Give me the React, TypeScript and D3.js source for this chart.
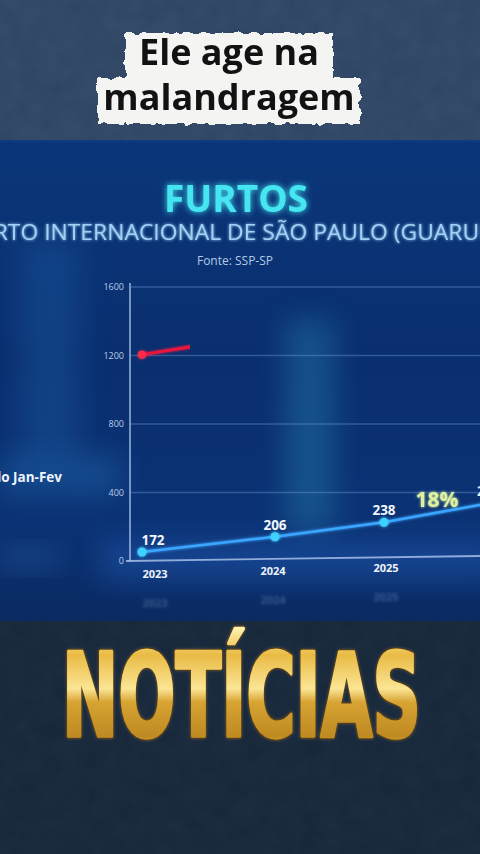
import React, { useEffect, useRef } from 'react';
import * as d3 from 'd3';

const years = [2023, 2024, 2025, 2026];
const furtos = [172, 206, 238, 281];
const yTicks = [0, 400, 800, 1200, 1600];
const janFev = [1205, 1330];
const janFevProgress = 0.36; // frame of the animation: red line only partly drawn
const growthLabel = '18%';
const captionLines = ['Ele age na', 'malandragem'];
const title = 'FURTOS';
const subtitle = 'AEROPORTO INTERNACIONAL DE SÃO PAULO (GUARULHOS)';
const source = 'Fonte: SSP-SP';
const legendLabel = 'Período Jan-Fev';
const brand = 'NOTÍCIAS';

const W = 480;
const H = 854;

const App: React.FC = () => {
  const ref = useRef<SVGSVGElement>(null);

  useEffect(() => {
    if (!ref.current) return;
    const svg = d3.select(ref.current);
    svg.selectAll('*').remove();

    const defs = svg.append('defs');

    const panelGrad = defs.append('linearGradient').attr('id', 'panel').attr('x1', 0).attr('y1', 0).attr('x2', 0).attr('y2', 1);
    panelGrad.append('stop').attr('offset', '0%').attr('stop-color', '#0a3679');
    panelGrad.append('stop').attr('offset', '45%').attr('stop-color', '#0a2f6f');
    panelGrad.append('stop').attr('offset', '80%').attr('stop-color', '#0b3274');
    panelGrad.append('stop').attr('offset', '100%').attr('stop-color', '#0a2a62');

    const gold = defs.append('linearGradient').attr('id', 'gold').attr('x1', 0).attr('y1', 0).attr('x2', 0).attr('y2', 1);
    [
      ['0%', '#fff2ae'],
      ['20%', '#e9bb45'],
      ['45%', '#fbe594'],
      ['55%', '#d7a332'],
      ['80%', '#bf8a22'],
      ['100%', '#f2cd66'],
    ].forEach(([o, c]) => gold.append('stop').attr('offset', o).attr('stop-color', c));

    const glow = defs.append('filter').attr('id', 'glow').attr('x', '-20%').attr('y', '-50%').attr('width', '140%').attr('height', '200%');
    glow.append('feGaussianBlur').attr('stdDeviation', 3).attr('result', 'b');
    const gm = glow.append('feMerge');
    gm.append('feMergeNode').attr('in', 'b');
    gm.append('feMergeNode').attr('in', 'SourceGraphic');

    const softGlow = defs.append('filter').attr('id', 'softGlow').attr('x', '-20%').attr('y', '-50%').attr('width', '140%').attr('height', '200%');
    softGlow.append('feGaussianBlur').attr('stdDeviation', 1.5).attr('result', 'b');
    const sm = softGlow.append('feMerge');
    sm.append('feMergeNode').attr('in', 'b');
    sm.append('feMergeNode').attr('in', 'SourceGraphic');

    defs.append('filter').attr('id', 'blurBig').attr('x', '-50%').attr('y', '-50%').attr('width', '200%').attr('height', '200%')
      .append('feGaussianBlur').attr('stdDeviation', 14);
    defs.append('filter').attr('id', 'blurSmall').attr('x', '-50%').attr('y', '-50%').attr('width', '200%').attr('height', '200%')
      .append('feGaussianBlur').attr('stdDeviation', 1.8);

    const torn = defs.append('filter').attr('id', 'torn').attr('x', '-5%').attr('y', '-10%').attr('width', '110%').attr('height', '120%');
    torn.append('feTurbulence').attr('type', 'fractalNoise').attr('baseFrequency', 0.12).attr('numOctaves', 2).attr('seed', 3).attr('result', 'n');
    torn.append('feDisplacementMap').attr('in', 'SourceGraphic').attr('in2', 'n').attr('scale', 7);

    const noise = defs.append('filter').attr('id', 'noise');
    noise.append('feTurbulence').attr('type', 'fractalNoise').attr('baseFrequency', 0.05).attr('numOctaves', 3).attr('seed', 7);
    noise.append('feColorMatrix').attr('values', '0 0 0 0 0.5  0 0 0 0 0.6  0 0 0 0 0.75  0 0 0 0.3 0');

    const clip = defs.append('clipPath').attr('id', 'plotClip');
    clip.append('rect').attr('x', 0).attr('y', 141).attr('width', W).attr('height', 480);

    // ---- backgrounds
    svg.append('rect').attr('width', W).attr('height', 141).attr('fill', '#2d4462');
    svg.append('rect').attr('width', W).attr('height', 141).attr('filter', 'url(#noise)').attr('opacity', 0.25);
    svg.append('rect').attr('y', 621).attr('width', W).attr('height', H - 621).attr('fill', '#17273a');
    svg.append('rect').attr('y', 621).attr('width', W).attr('height', H - 621).attr('filter', 'url(#noise)').attr('opacity', 0.15);

    const panel = svg.append('g').attr('clip-path', 'url(#plotClip)');
    panel.append('rect').attr('y', 141).attr('width', W).attr('height', 480).attr('fill', 'url(#panel)');
    // light beams and haze
    panel.append('rect').attr('x', 285).attr('y', 320).attr('width', 50).attr('height', 210).attr('fill', '#2a8fb8').attr('opacity', 0.35).attr('filter', 'url(#blurBig)');
    panel.append('rect').attr('x', 20).attr('y', 240).attr('width', 60).attr('height', 220).attr('fill', '#1f5fa8').attr('opacity', 0.35).attr('filter', 'url(#blurBig)');
    panel.append('rect').attr('x', 0).attr('y', 455).attr('width', 120).attr('height', 40).attr('fill', '#2a78c0').attr('opacity', 0.35).attr('filter', 'url(#blurBig)');
    panel.append('rect').attr('x', 100).attr('y', 540).attr('width', 400).attr('height', 40).attr('fill', '#2a6cd0').attr('opacity', 0.35).attr('filter', 'url(#blurBig)');
    panel.append('rect').attr('x', 0).attr('y', 548).attr('width', 60).attr('height', 20).attr('fill', '#3a7ac0').attr('opacity', 0.3).attr('filter', 'url(#blurBig)');

    // ---- caption
    const cap = svg.append('g');
    const capY = [65, 110];
    const capBox = [
      { x: 125, w: 208 },
      { x: 97, w: 263 },
    ];
    captionLines.forEach((t, i) => {
      cap.append('rect').attr('x', capBox[i].x).attr('y', capY[i] - 32).attr('width', capBox[i].w).attr('height', 46)
        .attr('fill', '#f4f4f2').attr('filter', 'url(#torn)');
    });
    captionLines.forEach((t, i) => {
      cap.append('text').attr('x', 229).attr('y', capY[i]).attr('text-anchor', 'middle')
        .attr('font-family', "'Open Sans', sans-serif").attr('font-weight', 700).attr('font-size', 36)
        .attr('fill', '#121212').text(t);
    });

    // ---- titles
    panel.append('text').attr('x', 236).attr('y', 212).attr('text-anchor', 'middle')
      .attr('font-family', "'Open Sans', sans-serif").attr('font-weight', 700).attr('font-size', 37)
      .attr('fill', '#45e6f2').attr('filter', 'url(#glow)').text(title);
    panel.append('text').attr('x', -97).attr('y', 240).attr('textLength', 642).attr('lengthAdjust', 'spacingAndGlyphs')
      .attr('font-family', "'Open Sans', sans-serif").attr('font-weight', 400).attr('font-size', 22)
      .attr('fill', '#9fd2f6').attr('filter', 'url(#softGlow)').text(subtitle);
    panel.append('text').attr('x', 235).attr('y', 265).attr('text-anchor', 'middle')
      .attr('font-family', "'Open Sans', sans-serif").attr('font-size', 12)
      .attr('fill', '#b4c9e6').text(source);

    // ---- scales
    const y = d3.scaleLinear().domain([0, 1600]).range([561, 287]);
    const x = d3.scaleLinear().domain(years).range([142, 275, 384, 490]);
    const yLine = d3.scaleLinear().domain([172, 281]).range([552, 503]);

    // grid
    const grid = panel.append('g');
    grid.selectAll('line').data(yTicks.filter((d) => d > 0)).enter().append('line')
      .attr('x1', 131).attr('x2', W).attr('y1', (d) => y(d)).attr('y2', (d) => y(d))
      .attr('stroke', '#6f9bd8').attr('stroke-opacity', 0.4).attr('stroke-width', 1.5);

    // y axis
    const yAxis = panel.append('g').attr('transform', 'translate(130,0)')
      .call(d3.axisLeft(y).tickValues(yTicks).tickFormat(d3.format('d')).tickSize(0).tickPadding(6));
    yAxis.select('.domain').attr('stroke', '#9ab8e2').attr('stroke-width', 1.5).attr('d', `M0,${y(0)}V${y(1600) - 4}`);
    yAxis.selectAll('.tick text').attr('fill', '#b9cde9').attr('font-size', 9)
      .attr('font-family', "'Open Sans', sans-serif");

    // baseline
    panel.append('line').attr('x1', 126).attr('x2', W).attr('y1', y(0)).attr('y2', y(0) - 5)
      .attr('stroke', '#b8d0f4').attr('stroke-opacity', 0.75).attr('stroke-width', 1.8);

    // x labels + reflections
    const xl = panel.append('g');
    xl.selectAll('text.lab').data(years.slice(0, 3)).enter().append('text').attr('class', 'lab')
      .attr('x', (d, i) => x(d) + [13, -2, 2][i]).attr('y', (d, i) => 578 - i * 3).attr('text-anchor', 'middle')
      .attr('font-family', "'Open Sans', sans-serif").attr('font-weight', 700).attr('font-size', 11)
      .attr('fill', '#eef3fb').text((d) => String(d));
    xl.selectAll('text.ref').data(years.slice(0, 3)).enter().append('text').attr('class', 'ref')
      .attr('x', (d, i) => x(d) + [13, -2, 2][i]).attr('y', (d, i) => 607 - i * 3).attr('text-anchor', 'middle')
      .attr('font-family', "'Open Sans', sans-serif").attr('font-weight', 700).attr('font-size', 11)
      .attr('fill', '#9ab6e0').attr('opacity', 0.3).attr('filter', 'url(#blurSmall)').text((d) => String(d));

    // legend (cut at left edge)
    panel.append('text').attr('x', 62).attr('y', 482).attr('text-anchor', 'end')
      .attr('font-family', "'Open Sans', sans-serif").attr('font-weight', 700).attr('font-size', 13.5)
      .attr('fill', '#eef4fc').text(legendLabel);

    // red series (partly drawn)
    const redClip = defs.append('clipPath').attr('id', 'redClip');
    redClip.append('rect').attr('x', 0).attr('y', 0)
      .attr('width', x(years[0] + janFevProgress)).attr('height', H);
    const redLine = d3.line<number>().x((d, i) => x(years[i])).y((d) => y(d));
    panel.append('path').datum(janFev).attr('d', redLine).attr('clip-path', 'url(#redClip)')
      .attr('fill', 'none').attr('stroke', '#e8163e').attr('stroke-width', 3).attr('stroke-linecap', 'round')
      .attr('filter', 'url(#softGlow)');
    panel.append('circle').attr('cx', x(years[0])).attr('cy', y(janFev[0])).attr('r', 4)
      .attr('fill', '#ff2a4a').attr('filter', 'url(#softGlow)');

    // blue series
    const line = d3.line<number>().x((d, i) => x(years[i])).y((d) => yLine(d));
    panel.append('path').datum(furtos).attr('d', line)
      .attr('fill', 'none').attr('stroke', '#3aa6ff').attr('stroke-width', 2.5).attr('filter', 'url(#softGlow)');
    panel.selectAll('circle.pt').data(furtos).enter().append('circle').attr('class', 'pt')
      .attr('cx', (d, i) => x(years[i])).attr('cy', (d) => yLine(d)).attr('r', 4.5)
      .attr('fill', '#3fd0ff').attr('filter', 'url(#softGlow)');
    panel.selectAll('text.val').data(furtos).enter().append('text').attr('class', 'val')
      .attr('x', (d, i) => x(years[i]) + (i === 0 ? 11 : 0)).attr('y', (d) => yLine(d) - 7)
      .attr('text-anchor', (d, i) => (i === 3 ? 'start' : 'middle'))
      .attr('dx', (d, i) => (i === 3 ? -13 : 0))
      .attr('font-family', "'Open Sans', sans-serif").attr('font-weight', 700).attr('font-size', 13.5)
      .attr('fill', '#f2f6fc').text((d) => String(d));

    // growth label
    panel.append('text').attr('x', (x(2025) + x(2026)) / 2).attr('y', 507).attr('text-anchor', 'middle')
      .attr('font-family', "'Open Sans', sans-serif").attr('font-weight', 700).attr('font-size', 21)
      .attr('fill', '#dff2a0').attr('filter', 'url(#softGlow)').text(growthLabel);

    // panel edge
    svg.append('line').attr('x1', 0).attr('x2', W).attr('y1', 141).attr('y2', 141).attr('stroke', '#0d3c84').attr('stroke-width', 2);

    // ---- brand
    const brandText = (g: d3.Selection<SVGSVGElement, unknown, null, undefined>) =>
      g.append('text').attr('x', 62).attr('y', 736).attr('textLength', 359).attr('lengthAdjust', 'spacingAndGlyphs')
        .attr('font-family', "'DejaVu Sans Condensed', 'DejaVu Sans', sans-serif").attr('font-stretch', 'condensed')
        .attr('font-weight', 700).attr('font-size', 115).attr('stroke-linejoin', 'round').text(brand);
    brandText(svg).attr('fill', '#e8b040').attr('stroke', '#e8b040').attr('stroke-width', 5)
      .attr('opacity', 0.35).attr('filter', 'url(#blurSmall)');
    brandText(svg).attr('fill', 'url(#gold)').attr('stroke', '#5e3c0c').attr('stroke-width', 5);
    brandText(svg).attr('fill', 'url(#gold)').attr('stroke', 'url(#gold)').attr('stroke-width', 3.4);

    return () => {
      svg.selectAll('*').remove();
    };
  }, []);

  return (
    <svg
      ref={ref}
      width={W}
      height={H}
      style={{ position: 'fixed', left: 0, top: 0, display: 'block' }}
    ></svg>
  );
};

export default App;
